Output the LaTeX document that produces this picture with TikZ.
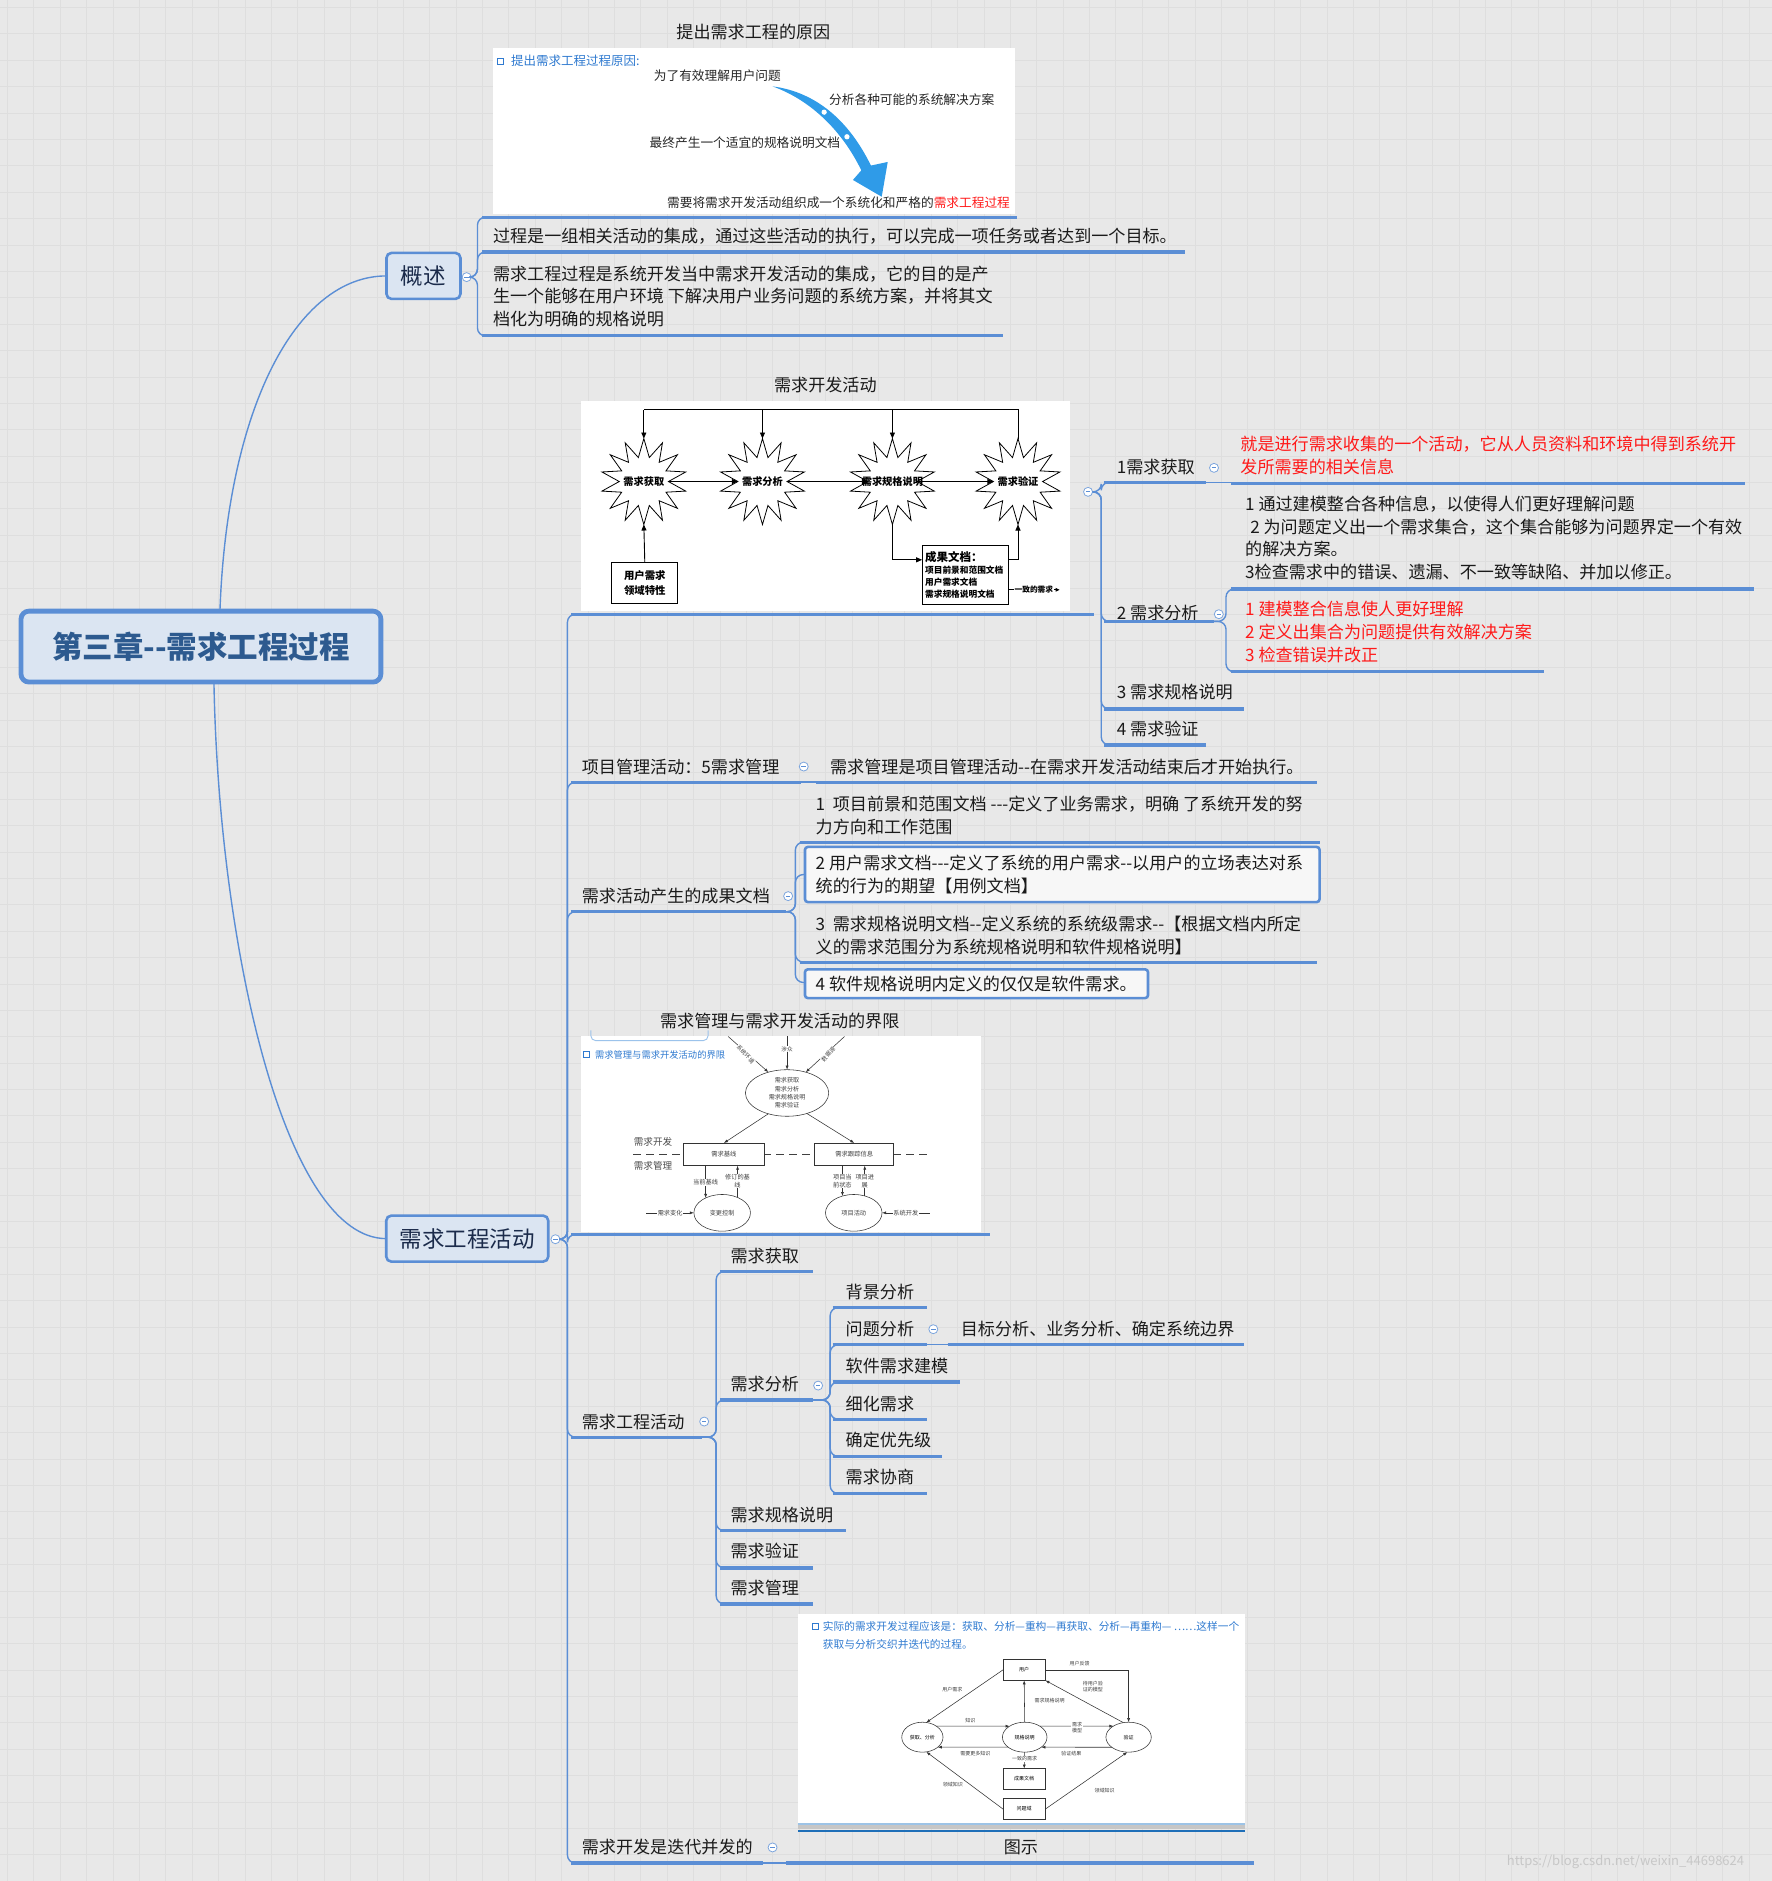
\documentclass[tikz,border=0pt]{standalone}
\usepackage{fontspec}
\setmainfont{Noto Sans CJK SC}
\usetikzlibrary{arrows.meta,shapes.geometric,calc}
\newcommand\myfs[2]{\fontsize{#1}{#2}\selectfont}
\definecolor{bg}{HTML}{E8E8E8}
\definecolor{gridc}{HTML}{DEDEDE}
\definecolor{ublue}{HTML}{5B8ED5}
\definecolor{pfill}{HTML}{DBE5F2}
\definecolor{ptext}{HTML}{1B2B4B}
\definecolor{roottext}{HTML}{2D5A8F}
\definecolor{arrowblue}{HTML}{2F9BE8}
\definecolor{titleblue}{HTML}{2F7AD0}
\definecolor{redtxt}{HTML}{FF1A1A}
\definecolor{txtc}{HTML}{1A1A1A}
\definecolor{lbar}{HTML}{9DC3E6}
\definecolor{dbar}{HTML}{1F6FB8}
\definecolor{lbrack}{HTML}{9CC3EB}
\begin{document}
\begin{tikzpicture}[x=1.2pt,y=-1.2pt,
  every node/.style={inner sep=0pt,outer sep=0pt},
  conn/.style={draw=ublue,line width=1.4pt,rounded corners=8pt},
  uline/.style={draw=ublue,line width=3.2pt},
  tx/.style={anchor=west,font=\myfs{17.1}{22.8},text=txtc,align=left},
  ttl/.style={font=\myfs{17.1}{22.8},text=txtc},
  coll/.style={circle,draw=ublue!80,fill=white,line width=0.8pt,minimum size=9pt,
    path picture={\draw[ublue,line width=0.8pt] ([xshift=-2.3pt]path picture bounding box.center) -- ([xshift=2.3pt]path picture bounding box.center);}},
  pbox/.style={draw=ublue,line width=2.6pt,fill=pfill,rounded corners=5pt,minimum height=46pt,font=\myfs{22.5}{26},text=ptext},
  bx/.style={draw=ublue,line width=2.6pt,fill=white!94!gray,rounded corners=3pt},
  dl/.style={draw=black,line width=0.9pt},
  da/.style={dl,-{Triangle[length=6pt,width=5pt]}},
  starn/.style={star,star points=14,star point ratio=1.75,draw=black,line width=0.8pt,fill=white,minimum size=86pt},
  stxt/.style={font=\myfs{10.2}{12}\bfseries,text=black},
  il/.style={draw=black!80,line width=0.55pt},
  ia/.style={il,-{Latex[length=4pt,width=3pt]}},
  lab3/.style={fill=white,inner sep=0.6pt,font=\myfs{6.2}{8},text=black!75,align=center},
  lab4/.style={fill=white,inner sep=0.6pt,font=\myfs{5}{6.2},text=black!75,align=center},
  ell/.style={ellipse,draw=black!80,line width=0.55pt,fill=white},
  rb/.style={rectangle,draw=black!80,line width=0.6pt,fill=white}
]
\useasboundingbox (0,0) rectangle (1477,1568);
\fill[bg] (0,0) rectangle (1477,1568);
\foreach \i in {0,...,67} {\draw[gridc,line width=0.35pt] (\i*22+6,0) -- (\i*22+6,1568);}
\foreach \i in {0,...,71} {\draw[gridc,line width=0.35pt] (0,\i*22+6) -- (1477,\i*22+6);}

% ---------- root and first level ----------
\node[draw=ublue,line width=4.8pt,fill=pfill,rounded corners=8pt,minimum width=360pt,minimum height=71pt,
  font=\myfs{30.5}{36}\bfseries,text=roottext] (root) at (167.5,539) {第三章-{}-需求工程过程};
\node[pbox,minimum width=74pt] (gaishu) at (353,230) {概述};
\node[pbox,minimum width=162pt] (huodong) at (389.5,1032.5) {需求工程活动};
\draw[conn] ([xshift=19pt]root.north) .. controls +(6,-170) and +(-75,0) .. (gaishu.west);
\draw[conn] ([xshift=13pt]root.south) .. controls +(4,220) and +(-85,0) .. (huodong.west);
\node[coll] (cgs) at (389,231) {};
\node[coll] (ch) at (463,1033) {};

% ---------- 概述 branch ----------
\foreach \yy in {181,210,280} {\draw[conn] (cgs.east) -- (398,231) -- (398,\yy) -- (406,\yy);}
\node[ttl] (t1) at (628,27) {提出需求工程的原因};
\fill[white] (411,40) rectangle (846,178);
\draw[titleblue,line width=1.3pt,fill=white] (414.5,48.5) rectangle (419.5,53.5);
\node[anchor=west,font=\myfs{12.5}{15},text=titleblue] (i1t) at (426,51) {提出需求工程过程原因:};
\node[font=\myfs{12.7}{15},text=black!85] (i1a) at (598,63) {为了有效理解用户问题};
\node[font=\myfs{12.7}{15},text=black!85] (i1b) at (760,83) {分析各种可能的系统解决方案};
\node[font=\myfs{12.7}{15},text=black!85] (i1c) at (621,119) {最终产生一个适宜的规格说明文档};
\fill[arrowblue] (644,72) .. controls (675,76) and (705,95) .. (726,138) -- (740,135) -- (735,164) -- (711,150) -- (718,142) .. controls (700,105) and (672,82) .. (644,72) -- cycle;
\fill[white] (687,93.5) circle (2.2);
\fill[white] (706,114) circle (2.2);
\node[font=\myfs{12.7}{15},text=black!85] (i1d) at (699,169) {需要将需求开发活动组织成一个系统化和严格的\textcolor{redtxt}{需求工程过程}};
\draw[uline] (402,181) -- (848,181);
\node[tx] (g2) at (411,197) {过程是一组相关活动的集成，通过这些活动的执行，可以完成一项任务或者达到一个目标。};
\draw[uline] (402,210) -- (988,210);
\node[tx] (g3) at (411,247) {需求工程过程是系统开发当中需求开发活动的集成，它的目的是产\\生一个能够在用户环境 下解决用户业务问题的系统方案，并将其文\\档化为明确的规格说明};
\draw[uline] (402,280) -- (836,280);

% ---------- 需求工程活动 branch ----------
\foreach \yy in {512,652,760,1029,1198,1553} {\draw[conn] (ch.east) -- (473,1033) -- (473,\yy) -- (481,\yy);}

% image 2 : 需求开发活动
\node[ttl] (t2) at (688,321) {需求开发活动};
\fill[white] (484,334) rectangle (892,509);
\node[starn] (s1) at (536.7,401.4) {};
\node[starn] (s2) at (635.6,401.4) {};
\node[starn] (s3) at (743.9,401.4) {};
\node[starn] (s4) at (848.6,401.4) {};
\node[stxt] at (s1) {需求获取};
\node[stxt] at (s2) {需求分析};
\node[stxt] at (s3) {需求规格说明};
\node[stxt] at (s4) {需求验证};
\coordinate (topy) at (0,341.7);
\draw[dl] (s4.north) -- (s4.north |- topy) -- (s1.north |- topy);
\draw[da] (s1.north |- topy) -- (s1.north);
\draw[da] (s2.north |- topy) -- (s2.north);
\draw[da] (s3.north |- topy) -- (s3.north);
\draw[da] (s1.east) -- (s2.west);
\draw[da] (s2.east) -- (s3.west);
\draw[da] (s3.east) -- (s4.west);
\node[rb,draw=black,line width=0.9pt,minimum width=66pt,minimum height=40.8pt,align=center,font=\myfs{10.4}{15}\bfseries] (ub) at (537.5,486) {用户需求\\领域特性};
\draw[da] (ub.north) -- (s1.south);
\node[rb,draw=black,line width=0.9pt,minimum width=86pt,minimum height=59pt,inner sep=3pt,text width=80pt,align=left,font=\myfs{8.7}{12}\bfseries] (cgwd) at (804.5,479) {{\myfs{11.5}{14}成果文档：}\\项目前景和范围文档\\用户需求文档\\需求规格说明文档};
\draw[da] (s3.south) |- ([yshift=14.8pt]cgwd.west);
\draw[da] ([yshift=14.8pt]cgwd.east) -| (s4.south);
\draw[dl,-{Triangle[length=4pt,width=3.5pt]}] ([yshift=-15.2pt]cgwd.east) -- ++(43,0) node[midway,fill=white,inner sep=0.8pt,font=\myfs{7.7}{9}\bfseries] {一致的需求};
\draw[uline] (476,512) -- (912,512);
\node[coll] (c2) at (907,410) {};
\foreach \yy in {402,518,591,621} {\draw[conn] (c2.east) -- (918,410) -- (918,\yy) -- (925,\yy);}

\node[tx] (a1) at (931,389) {1需求获取};
\draw[uline] (920,402) -- (1005,402);
\node[coll] (c21) at (1012,390) {};
\draw[conn] (1005,402) -- (1027,402);
\node[tx,text=redtxt] (a1r) at (1034,379.5) {就是进行需求收集的一个活动，它从人员资料和环境中得到系统开\\发所需要的相关信息};
\draw[uline] (1026,403) -- (1455,403);

\node[tx] (a2) at (931,511) {2 需求分析};
\draw[uline] (920,518) -- (1012,518);
\node[coll] (c22) at (1016,512) {};
\foreach \yy in {491,560} {\draw[conn] (1012,518) -- (1022,518) -- (1022,\yy) -- (1030,\yy);}
\node[tx] (a2b) at (1038,448.5) {1 通过建模整合各种信息，以使得人们更好理解问题\\\hspace{0.3em}2 为问题定义出一个需求集合，这个集合能够为问题界定一个有效\\的解决方案。\\3检查需求中的错误、遗漏、不一致等缺陷、并加以修正。};
\draw[uline] (1026,491) -- (1462,491);
\node[tx,text=redtxt] (a2r) at (1038,527) {1 建模整合信息使人更好理解\\2 定义出集合为问题提供有效解决方案\\3 检查错误并改正};
\draw[uline] (1026,560) -- (1287,560);

\node[tx] (a3) at (931,577) {3 需求规格说明};
\draw[uline] (920,591) -- (1037,591);
\node[tx] (a4) at (931,608) {4 需求验证};
\draw[uline] (920,621) -- (1005,621);

% 项目管理活动
\node[tx] (pm) at (485,639) {项目管理活动：5需求管理};
\draw[uline] (476,652) -- (668,652);
\node[coll] (cpm) at (670,639) {};
\draw[conn] (668,652) -- (682,652);
\node[tx] (pm1) at (692,639) {需求管理是项目管理活动-{}-在需求开发活动结束后才开始执行。};
\draw[uline] (680,652) -- (1098,652);

% 成果文档
\node[tx] (cg) at (485,747) {需求活动产生的成果文档};
\draw[uline] (476,760) -- (655,760);
\node[coll] (ccg) at (657,747) {};
\foreach \yy in {702,729,802,819} {\draw[conn] (655,760) -- (663,760) -- (663,\yy) -- (671,\yy);}
\node[tx] (cg1) at (680,679.5) {1\ \ 项目前景和范围文档 -{}-{}-定义了业务需求，明确 了系统开发的努\\力方向和工作范围};
\draw[uline] (667,702) -- (1100,702);
\node[bx,anchor=west,minimum width=514.8pt,minimum height=55.2pt] (b2) at (671,729) {};
\node[tx] (cg2) at ($(b2.west)+(9,0)$) {2 用户需求文档-{}-{}-定义了系统的用户需求-{}-以用户的立场表达对系\\统的行为的期望【用例文档】};
\node[tx] (cg3) at (680,779.5) {3\ \ 需求规格说明文档-{}-定义系统的系统级需求-{}-【根据文档内所定\\义的需求范围分为系统规格说明和软件规格说明】};
\draw[uline] (667,802) -- (1098,802);
\node[bx,anchor=west,minimum width=343.2pt,minimum height=28.8pt] (b4) at (671,820) {};
\node[tx] (cg4) at ($(b4.west)+(9,0)$) {4 软件规格说明内定义的仅仅是软件需求。};

% image 3
\node[ttl] (t3) at (650,851) {需求管理与需求开发活动的界限};
\fill[white] (484,864) rectangle (818,1027);
\draw[lbrack,line width=0.9pt,rounded corners=5pt] (492.5,859) -- (492.5,867.5) -- (590.3,867.5) -- (590.3,859);
\draw[titleblue,line width=1.1pt,fill=white] (486.5,876.5) rectangle (491.5,881.5);
\node[anchor=west,font=\myfs{9.3}{11},text=titleblue] (i3t) at (496,879) {需求管理与需求开发活动的界限};
\node[ell,minimum width=83.3pt,minimum height=46.6pt,align=center,font=\myfs{6.1}{8.3},text=black!75] (el0) at (656.1,911.1) {需求获取\\需求分析\\需求规格说明\\需求验证};
\coordinate (tp1) at (607,864);
\coordinate (tp2) at (656.1,864);
\coordinate (tp3) at (704,864);
\draw[ia] (tp1) -- (el0.132);
\draw[ia] (tp2) -- (el0.north);
\draw[ia] (tp3) -- (el0.48);
\node[lab3,font=\myfs{5.6}{7},rotate=-47] at (621.5,879) {系统环境};
\node[lab3,font=\myfs{5.6}{7}] at (656.1,874.5) {涉众};
\node[lab3,font=\myfs{5.6}{7},rotate=47] at (690.5,879) {数据源};
\coordinate (dsl) at (527.8,962.2);
\coordinate (dsr) at (775,962.2);
\draw[black!75,line width=0.8pt,dash pattern=on 8pt off 5pt] (dsl) -- (dsr);
\node[rb,minimum width=81.7pt,minimum height=22.7pt,font=\myfs{6.3}{8},text=black!75] (rL) at (603.45,962.25) {需求基线};
\node[rb,minimum width=79pt,minimum height=22.7pt,font=\myfs{6.3}{8},text=black!75] (rR) at (712.1,962.25) {需求跟踪信息};
\draw[ia] (el0.228) -- (rL.north);
\draw[ia] (el0.-46) -- (rR.north);
\node[font=\myfs{9.6}{11},text=black!70] at (544.4,952.2) {需求开发};
\node[font=\myfs{9.6}{11},text=black!70] at (544.4,971.6) {需求管理};
\node[ell,minimum width=56.6pt,minimum height=36.7pt,font=\myfs{6.2}{8},text=black!75] (elL) at (602,1011) {变更控制};
\node[ell,minimum width=56.6pt,minimum height=36.7pt,font=\myfs{6.2}{8},text=black!75] (elR) at (711.7,1011) {项目活动};
\draw[ia] (rL.south -| elL.138) -- (elL.138);
\draw[ia] (elL.45) -- (rL.south -| elL.45);
\draw[ia] (rR.south -| elR.124) -- (elR.124);
\draw[ia] (elR.57) -- (rR.south -| elR.57);
\node[lab3] at (588.2,985.5) {当前基线};
\node[lab3] at (614.8,984.5) {修订的基\\线};
\node[lab3] at (702.2,984.5) {项目当\\前状态};
\node[lab3] at (720.9,984.5) {项目进\\展};
\coordinate (inL) at (538.9,1011);
\coordinate (inR) at (775,1011);
\draw[ia] (inL) -- (elL.west) node[midway,lab3] {需求变化};
\draw[ia] (inR) -- (elR.east) node[midway,lab3] {系统开发};
\draw[uline] (476,1029) -- (825,1029);

% 需求工程活动 (sub)
\node[tx] (gc) at (485,1185) {需求工程活动};
\draw[uline] (476,1198) -- (585,1198);
\node[coll] (cgc) at (587,1185) {};
\foreach \yy in {1060,1167,1276,1307,1337} {\draw[conn] (585,1198) -- (597,1198) -- (597,\yy) -- (605,\yy);}
\node[tx] (gc1) at (609,1047) {需求获取};
\draw[uline] (600,1060) -- (678,1060);
\node[tx] (gc2) at (609,1154) {需求分析};
\draw[uline] (600,1167) -- (678,1167);
\node[coll] (cfx) at (682,1155) {};
\foreach \yy in {1090,1121,1152,1183,1214,1245} {\draw[conn] (678,1167) -- (692,1167) -- (692,\yy) -- (699,\yy);}
\node[tx] (f1) at (705,1077) {背景分析};
\draw[uline] (694,1090) -- (773,1090);
\node[tx] (f2) at (705,1108) {问题分析};
\draw[uline] (694,1121) -- (773,1121);
\node[coll] (cwt) at (778,1108) {};
\draw[conn] (773,1121) -- (792,1121);
\node[tx] (f2a) at (801,1108) {目标分析、业务分析、确定系统边界};
\draw[uline] (790,1121) -- (1037,1121);
\node[tx] (f3) at (705,1139) {软件需求建模};
\draw[uline] (694,1152) -- (800,1152);
\node[tx] (f4) at (705,1170) {细化需求};
\draw[uline] (694,1183) -- (773,1183);
\node[tx] (f5) at (705,1200) {确定优先级};
\draw[uline] (694,1214) -- (785,1214);
\node[tx] (f6) at (705,1231) {需求协商};
\draw[uline] (694,1245) -- (773,1245);
\node[tx] (gc3) at (609,1263) {需求规格说明};
\draw[uline] (600,1276) -- (705,1276);
\node[tx] (gc4) at (609,1293) {需求验证};
\draw[uline] (600,1307) -- (678,1307);
\node[tx] (gc5) at (609,1324) {需求管理};
\draw[uline] (600,1337) -- (678,1337);

% 需求开发是迭代并发的
\node[tx] (dd) at (485,1540) {需求开发是迭代并发的};
\draw[uline] (476,1553) -- (636,1553);
\node[coll] (cdd) at (644,1540) {};
\draw[conn] (636,1553) -- (657,1553);
\fill[white] (665,1345) rectangle (1038,1520);
\draw[lbar,line width=1.2pt] (665,1520.5) -- (1038,1520.5);
\fill[gray!45] (665,1521) rectangle (1038,1525);
\draw[dbar,line width=2.6pt] (665,1526.2) -- (1038,1526.2);
\draw[titleblue,line width=1.2pt,fill=white] (677.5,1353.1) rectangle (682.5,1358.1);
\node[anchor=west,font=\myfs{10.7}{13},text=titleblue] (i4a) at (686,1355.6) {实际的需求开发过程应该是：获取、分析—重构—再获取、分析—再重构— ……这样一个};
\node[anchor=west,font=\myfs{10.7}{13},text=titleblue] (i4b) at (686,1370.8) {获取与分析交织并迭代的过程。};
\node[rb,minimum width=42.4pt,minimum height=21pt,font=\myfs{5}{6}] (yh) at (853.75,1392) {用户};
\node[ell,minimum width=41.3pt,minimum height=30pt,font=\myfs{5}{6}] (hq) at (768.9,1448.1) {获取、分析};
\node[ell,minimum width=44.6pt,minimum height=30pt,font=\myfs{5}{6}] (gg) at (854.2,1448.1) {规格说明};
\node[ell,minimum width=45.4pt,minimum height=30pt,font=\myfs{5}{6}] (yz) at (940.8,1448.1) {验证};
\node[rb,minimum width=42.4pt,minimum height=21pt,font=\myfs{5}{6}] (cw) at (853.75,1483) {成果文档};
\node[rb,minimum width=42.4pt,minimum height=21pt,font=\myfs{5}{6}] (wt) at (853.75,1508) {问题域};
\draw[ia] (yh.west) -- (hq.75);
\draw[ia] (yh.east) -| (yz.north);
\draw[ia] (yz.110) -- (yh.south east);
\draw[ia] (gg.north) -- (yh.south);
\draw[ia] (hq.38) -- (gg.144);
\draw[ia] (gg.211) -- (hq.-33);
\draw[ia] (gg.36) -- (yz.144);
\draw[ia] (yz.211) -- (gg.-31);
\draw[ia] (gg.south) -- (cw.north);
\draw[ia] (wt.west) -- (hq.-75);
\draw[ia] (wt.east) -- (yz.-95);
\node[lab4] at (793.9,1408.3) {用户需求};
\node[lab4] at (900,1386.7) {用户反馈};
\node[lab4] at (911,1406) {待用户验\\证的模型};
\node[lab4] at (875,1417.2) {需求规格说明};
\node[lab4] at (808.9,1434.2) {知识};
\node[lab4] at (813,1462) {需要更多知识};
\node[lab4] at (897.8,1440) {需求\\模型};
\node[lab4] at (893,1462) {验证结果};
\node[lab4] at (854.2,1466) {一致的需求};
\node[lab4] at (794.4,1488) {领域知识};
\node[lab4] at (920.8,1493) {领域知识};
\node[ttl] (t4) at (851,1540) {图示};
\draw[uline] (655,1553) -- (1045,1553);

% watermark
\node[font=\myfs{13}{15},text=black!22] (wm) at (1355,1552) {https://blog.csdn.net/weixin\_44698624};
\end{tikzpicture}
\end{document}
